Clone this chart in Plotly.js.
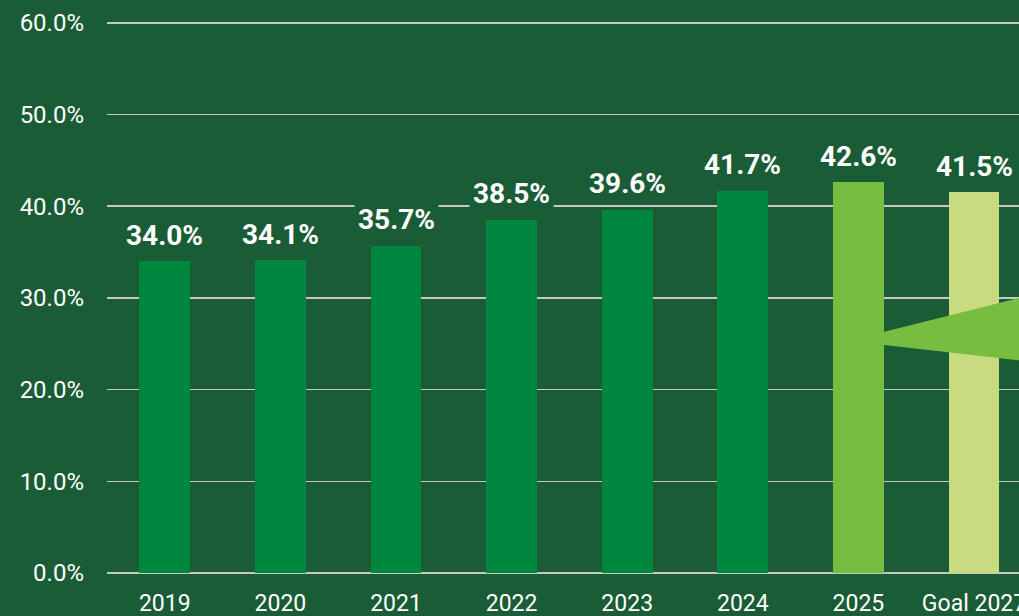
<!DOCTYPE html>
<html>
<head>
<meta charset="utf-8">
<script src="https://cdn.plot.ly/plotly-3.0.1.min.js"></script>
<style>
  html, body { margin: 0; padding: 0; background: #1a5c36; overflow: hidden; }
  #chart { width: 1019px; height: 616px; }
</style>
</head>
<body>
<div id="chart"></div>
<script>
// Data
const categories = ["2019", "2020", "2021", "2022", "2023", "2024", "2025", "Goal 2027"];
const shareValues = [34.0, 34.1, 35.7, 38.5, 39.6, 41.7, 42.6, 41.5];
const valueLabels = ["34.0%", "34.1%", "35.7%", "38.5%", "39.6%", "41.7%", "42.6%", "41.5%"];
const yTickValues = [0, 10, 20, 30, 40, 50, 60];
const yTickLabels = ["0.0%", "10.0%", "20.0%", "30.0%", "40.0%", "50.0%", "60.0%"];

const BG = "#1a5c36";
const barColors = categories.map((c, i) =>
  i === categories.length - 1 ? "#c9db80" : (i === categories.length - 2 ? "#77bd3f" : "#00873e"));
const idx = categories.map((c, i) => i);

const trace = {
  type: "bar",
  x: idx,
  y: shareValues,
  width: 0.44,
  marker: { color: barColors, line: { width: 0 } },
  hoverinfo: "skip"
};

const annotations = idx.map(i => ({
  x: i, y: shareValues[i], xref: "x", yref: "y",
  text: valueLabels[i],
  showarrow: false,
  yanchor: "middle",
  yshift: 26,
  bgcolor: BG,
  borderpad: 3,
  font: { family: "Roboto, 'DejaVu Sans', sans-serif", size: 28, color: "#ffffff", weight: 700 }
}));

const layout = {
  width: 1019, height: 616,
  margin: { l: 107, r: 0, t: 21, b: 43 },
  paper_bgcolor: BG,
  plot_bgcolor: BG,
  showlegend: false,
  bargap: 0,
  xaxis: {
    range: [-0.5, 7.389],
    tickmode: "array",
    tickvals: idx,
    ticktext: categories,
    showgrid: false,
    zeroline: false,
    showline: false,
    ticks: "",
    ticklabelstandoff: 14,
    ticklabeloverflow: "allow",
    tickfont: { family: "Roboto, sans-serif", size: 23, color: "#ffffff" },
    fixedrange: true
  },
  yaxis: {
    range: [0, 60.2],
    tickmode: "array",
    tickvals: yTickValues,
    ticktext: yTickLabels,
    showgrid: true,
    gridcolor: "#c4c9c6",
    gridwidth: 1.5,
    zeroline: true,
    zerolinecolor: "#c4c9c6",
    zerolinewidth: 1.5,
    showline: false,
    ticks: "",
    ticklabelstandoff: 22,
    tickfont: { family: "Roboto, sans-serif", size: 24, color: "#ffffff" },
    fixedrange: true
  },
  shapes: [{
    type: "path",
    xref: "x", yref: "y",
    path: "M 6.0 25.6 L 7.5 30.35 L 7.5 23.04 L 6.0 25.2 Z",
    fillcolor: "#77bd3f",
    line: { width: 0 },
    layer: "above"
  }],
  annotations: annotations
};

Plotly.newPlot("chart", [trace], layout, { displayModeBar: false, staticPlot: true });
</script>
</body>
</html>
